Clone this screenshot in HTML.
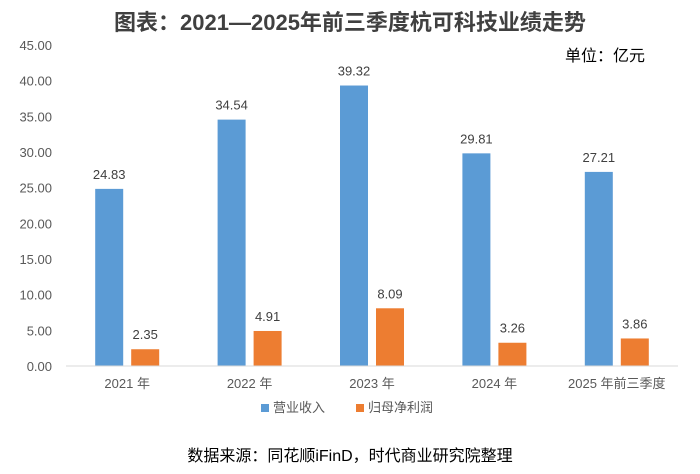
<!DOCTYPE html>
<html><head><meta charset="utf-8"><style>
body{margin:0;background:#fff;}
svg text{font-family:"Liberation Sans","Noto Sans CJK SC",sans-serif;}
</style></head><body>
<svg id="chart" width="700" height="469" xmlns="http://www.w3.org/2000/svg">
<text x="350" y="30" text-anchor="middle" font-size="22" font-weight="bold" fill="#404040">图表：2021—2025年前三季度杭可科技业绩走势</text>
<text x="645" y="61" text-anchor="end" font-size="16" fill="#000">单位：亿元</text>
<g id="yaxis"></g>
<g id="bars"></g>
<g id="xaxis"></g>
<g>
<g><rect x="261" y="404" width="8" height="8" fill="#5B9BD5"/><text x="273" y="412" font-size="13" fill="#595959">营业收入</text></g>
<g><rect x="356" y="404" width="8" height="8" fill="#ED7D31"/><text x="368" y="412" font-size="13" fill="#595959">归母净利润</text></g>
</g>
<text x="350" y="461" text-anchor="middle" font-size="16" fill="#000">数据来源：同花顺iFinD，时代商业研究院整理</text>
</svg>
<script>
const categories=["2021 年","2022 年","2023 年","2024 年","2025 年前三季度"];
const revenue=[24.83,34.54,39.32,29.81,27.21];
const netProfit=[2.35,4.91,8.09,3.26,3.86];
const yTicks=[0,5,10,15,20,25,30,35,40,45];
const NS="http://www.w3.org/2000/svg";
const x0=66,x1=678,yB=366,yT=45,yMax=45;
const y=v=>yB-(v/yMax)*(yB-yT);
const bw=(x1-x0)/categories.length;
const cx=i=>x0+bw*(i+0.5);
function mk(tag,attrs,parent,txt){const e=document.createElementNS(NS,tag);for(const k in attrs)e.setAttribute(k,attrs[k]);if(txt!=null)e.textContent=txt;parent.appendChild(e);return e;}
const ya=document.getElementById('yaxis'),ba=document.getElementById('bars'),xa=document.getElementById('xaxis');
yTicks.forEach(t=>{const e=mk('text',{x:52,y:y(t)+5,'text-anchor':'end','font-size':13,fill:'#595959'},ya,t.toFixed(2));

});
const ax=mk('line',{x1:x0,x2:x1,y1:yB,y2:yB,stroke:'#d9d9d9','stroke-width':1},xa);


categories.forEach((c,i)=>{
 const t=mk('text',{x:cx(i),y:yB+22,'text-anchor':'middle','font-size':13,fill:'#595959'},xa,c);
 
 
 [[revenue,'#5B9BD5',-32,'bar-revenue'],[netProfit,'#ED7D31',4,'bar-net-profit']].forEach(([arr,col,off,nm])=>{
  const v=arr[i];const bx=cx(i)+off;
  const r=mk('rect',{x:bx,y:y(v),width:28,height:yB-y(v),fill:col},ba);
  
  
  const l=mk('text',{x:bx+14,y:y(v)-10,'text-anchor':'middle','font-size':13,fill:'#404040'},ba,v.toFixed(2));
  
  
 });
});
</script>
</body></html>
